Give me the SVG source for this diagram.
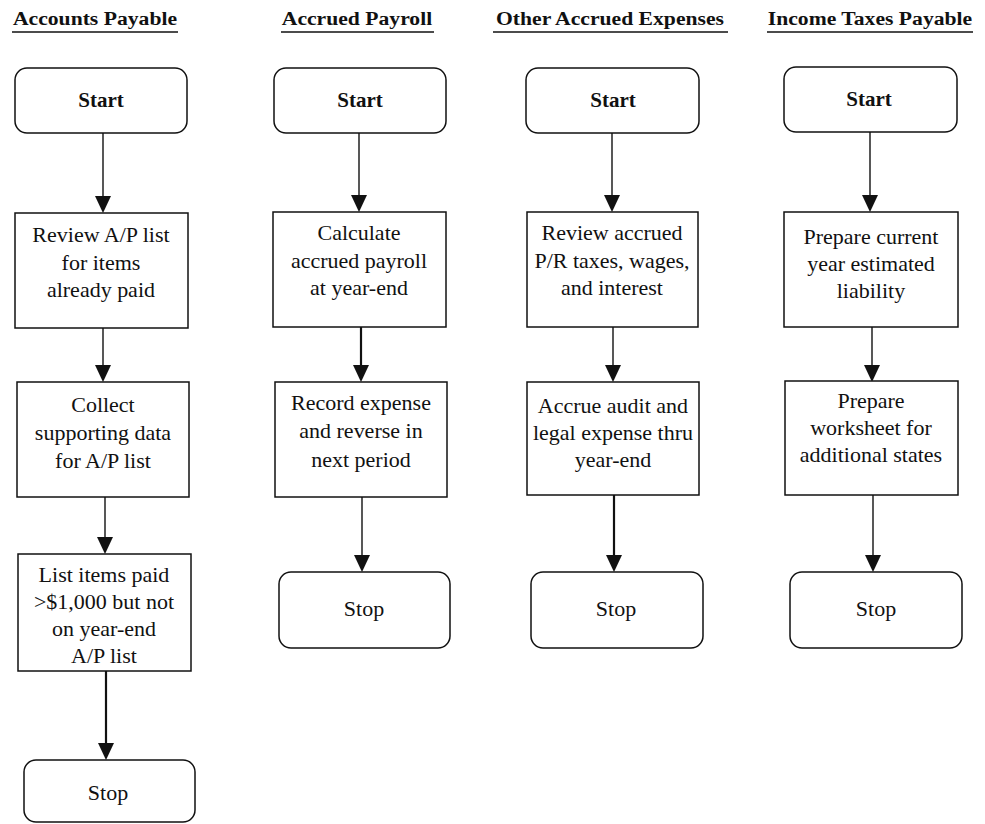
<svg xmlns="http://www.w3.org/2000/svg" width="985" height="824" viewBox="0 0 985 824">
  <style>
    .bg { fill: #ffffff; }
    .box { fill: #ffffff; stroke: #111111; stroke-width: 1.5; }
    .term { fill: #ffffff; stroke: #111111; stroke-width: 1.5; }
    .hdr { font-family: "Liberation Serif", "Times New Roman", serif; font-weight: bold; font-size: 19.5px; fill: #111111; text-anchor: middle; transform-box: fill-box; transform-origin: center; transform: scaleX(1.11); }
    .uline { stroke: #111111; stroke-width: 1.6; }
    .lbl { font-family: "Liberation Serif", "Times New Roman", serif; font-size: 20px; fill: #111111; text-anchor: middle; transform-box: fill-box; transform-origin: center; transform: scaleX(1.1); }
    .start { font-family: "Liberation Serif", "Times New Roman", serif; font-weight: bold; font-size: 21px; fill: #111111; text-anchor: middle; }
    .stop { font-family: "Liberation Serif", "Times New Roman", serif; font-size: 22px; fill: #111111; text-anchor: middle; }
    .edge { stroke: #111111; stroke-width: 1.4; fill: none; marker-end: url(#head); }
    .edge.heavy { stroke-width: 2.2; }
  </style>
  <defs>
    <marker id="head" viewBox="0 0 17 16" refX="0" refY="8" markerWidth="17" markerHeight="16" markerUnits="userSpaceOnUse" orient="auto">
      <path d="M0,0 L17,8 L0,16 Z" fill="#111111"/>
    </marker>
  </defs>

  <rect class="bg" x="0" y="0" width="985" height="824"/>

  <!-- column headings -->
  <g id="headings">
    <text class="hdr" x="95" y="25">Accounts Payable</text>
    <line class="uline" x1="12" y1="32" x2="178" y2="32"/>
    <text class="hdr" x="357" y="25">Accrued Payroll</text>
    <line class="uline" x1="281" y1="32" x2="434" y2="32"/>
    <text class="hdr" x="610" y="25">Other Accrued Expenses</text>
    <line class="uline" x1="493" y1="32" x2="728" y2="32"/>
    <text class="hdr" x="870" y="25">Income Taxes Payable</text>
    <line class="uline" x1="767" y1="32" x2="973" y2="32"/>
  </g>

  <!-- connectors -->
  <g id="connectors">
    <line class="edge" x1="103" y1="133" x2="103" y2="196"/>
    <line class="edge" x1="103" y1="328" x2="103" y2="365"/>
    <line class="edge" x1="105" y1="497" x2="105" y2="537"/>
    <line class="edge heavy" x1="106" y1="671" x2="106" y2="743"/>

    <line class="edge" x1="359" y1="133" x2="359" y2="195"/>
    <line class="edge heavy" x1="361" y1="327" x2="361" y2="365"/>
    <line class="edge" x1="362" y1="497" x2="362" y2="555"/>

    <line class="edge" x1="612" y1="133" x2="612" y2="195"/>
    <line class="edge" x1="613" y1="327" x2="613" y2="365"/>
    <line class="edge heavy" x1="614" y1="495" x2="614" y2="555"/>

    <line class="edge" x1="870" y1="132" x2="870" y2="195"/>
    <line class="edge" x1="872" y1="327" x2="872" y2="365"/>
    <line class="edge" x1="873" y1="495" x2="873" y2="555"/>
  </g>

  <!-- Accounts Payable -->
  <g id="ap-start">
    <rect class="term" x="15" y="68" width="172" height="65" rx="12"/>
    <text class="start" x="101" y="107">Start</text>
  </g>
  <g id="ap-review">
    <rect class="box" x="15" y="213" width="173" height="115"/>
    <text class="lbl" x="101" y="242">Review A/P list</text>
    <text class="lbl" x="101" y="270">for items</text>
    <text class="lbl" x="101" y="297">already paid</text>
  </g>
  <g id="ap-collect">
    <rect class="box" x="17" y="382" width="172" height="115"/>
    <text class="lbl" x="103" y="412">Collect</text>
    <text class="lbl" x="103" y="440">supporting data</text>
    <text class="lbl" x="103" y="468">for A/P list</text>
  </g>
  <g id="ap-list">
    <rect class="box" x="18" y="554" width="173" height="117"/>
    <text class="lbl" x="104" y="582">List items paid</text>
    <text class="lbl" x="104" y="609">&gt;$1,000 but not</text>
    <text class="lbl" x="104" y="636">on year-end</text>
    <text class="lbl" x="104" y="663">A/P list</text>
  </g>
  <g id="ap-stop">
    <rect class="term" x="24" y="760" width="171" height="62" rx="12"/>
    <text class="stop" x="108" y="800">Stop</text>
  </g>

  <!-- Accrued Payroll -->
  <g id="pr-start">
    <rect class="term" x="274" y="68" width="172" height="65" rx="12"/>
    <text class="start" x="360" y="107">Start</text>
  </g>
  <g id="pr-calc">
    <rect class="box" x="273" y="212" width="173" height="115"/>
    <text class="lbl" x="359" y="240">Calculate</text>
    <text class="lbl" x="359" y="268">accrued payroll</text>
    <text class="lbl" x="359" y="295">at year-end</text>
  </g>
  <g id="pr-record">
    <rect class="box" x="275" y="382" width="172" height="115"/>
    <text class="lbl" x="361" y="410">Record expense</text>
    <text class="lbl" x="361" y="438">and reverse in</text>
    <text class="lbl" x="361" y="467">next period</text>
  </g>
  <g id="pr-stop">
    <rect class="term" x="279" y="572" width="171" height="76" rx="12"/>
    <text class="stop" x="364" y="616">Stop</text>
  </g>

  <!-- Other Accrued Expenses -->
  <g id="oe-start">
    <rect class="term" x="526" y="68" width="173" height="65" rx="12"/>
    <text class="start" x="613" y="107">Start</text>
  </g>
  <g id="oe-review">
    <rect class="box" x="527" y="212" width="171" height="115"/>
    <text class="lbl" x="612" y="240">Review accrued</text>
    <text class="lbl" x="612" y="268">P/R taxes, wages,</text>
    <text class="lbl" x="612" y="295">and interest</text>
  </g>
  <g id="oe-accrue">
    <rect class="box" x="527" y="382" width="172" height="113"/>
    <text class="lbl" x="613" y="413">Accrue audit and</text>
    <text class="lbl" x="613" y="440">legal expense thru</text>
    <text class="lbl" x="613" y="467">year-end</text>
  </g>
  <g id="oe-stop">
    <rect class="term" x="531" y="572" width="172" height="76" rx="12"/>
    <text class="stop" x="616" y="616">Stop</text>
  </g>

  <!-- Income Taxes Payable -->
  <g id="it-start">
    <rect class="term" x="784" y="67" width="173" height="65" rx="12"/>
    <text class="start" x="869" y="106">Start</text>
  </g>
  <g id="it-current">
    <rect class="box" x="784" y="212" width="174" height="115"/>
    <text class="lbl" x="871" y="244">Prepare current</text>
    <text class="lbl" x="871" y="271">year estimated</text>
    <text class="lbl" x="871" y="298">liability</text>
  </g>
  <g id="it-worksheet">
    <rect class="box" x="785" y="381" width="173" height="114"/>
    <text class="lbl" x="871" y="408">Prepare</text>
    <text class="lbl" x="871" y="435">worksheet for</text>
    <text class="lbl" x="871" y="462">additional states</text>
  </g>
  <g id="it-stop">
    <rect class="term" x="790" y="572" width="172" height="76" rx="12"/>
    <text class="stop" x="876" y="616">Stop</text>
  </g>
</svg>
